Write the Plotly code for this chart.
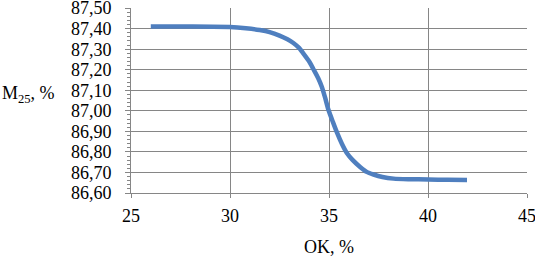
import plotly.graph_objects as go

ok = [26.0, 28.0, 30.0, 30.8, 31.5, 32.0, 32.5, 32.9, 33.2, 33.5, 33.7, 34.0, 34.2, 34.45, 34.64, 34.8, 34.97, 35.2, 35.4, 35.65, 35.9, 36.2, 36.57, 36.9, 37.25, 37.7, 38.26, 39.0, 40.03, 41.0, 41.97]
m25 = [87.41, 87.41, 87.408, 87.402, 87.393, 87.383, 87.366, 87.348, 87.330, 87.305, 87.280, 87.240, 87.205, 87.160, 87.116, 87.065, 87.005, 86.945, 86.895, 86.840, 86.795, 86.760, 86.727, 86.703, 86.690, 86.678, 86.670, 86.667, 86.666, 86.664, 86.663]

y_ticks = [86.6 + 0.1 * i for i in range(10)]
y_labels = [f"{v:.2f}".replace(".", ",") for v in y_ticks]
x_ticks = [25, 30, 35, 40, 45]
x_labels = [str(v) for v in x_ticks]

fig = go.Figure()
fig.add_trace(go.Scatter(x=ok, y=m25, mode="lines", line=dict(color="#4F7FBF", width=4.5, shape="spline", smoothing=0.6)))

fam = "Liberation Serif"
font = dict(family=fam, size=18, color="#000")
grid = "#868686"
fig.update_layout(
    width=535, height=257,
    margin=dict(l=131, r=8, t=8, b=64, autoexpand=False),
    plot_bgcolor="white", paper_bgcolor="white",
    showlegend=False,
    font=font,
    xaxis=dict(range=[25, 45], tickvals=x_ticks, ticktext=x_labels, showgrid=True, gridcolor=grid, gridwidth=1,
               showline=True, linecolor=grid, linewidth=1, ticks="outside", ticklen=4, tickcolor=grid,
               zeroline=False, tickfont=font, ticklabeloverflow="allow", ticklabelstandoff=2, automargin=False,
               title=dict(text="OK, %", font=font, standoff=17)),
    yaxis=dict(range=[86.6, 87.5005], tickvals=y_ticks, ticktext=y_labels, showgrid=True, gridcolor=grid, gridwidth=1,
               showline=True, linecolor=grid, linewidth=1, ticks="outside", ticklen=5, tickcolor=grid,
               zeroline=False, tickfont=font, ticklabeloverflow="allow", ticklabelstandoff=10, automargin=False,
               minor=dict(dtick=0.02, ticks="outside", ticklen=3, tickcolor=grid, showgrid=False)),
)
fig.add_annotation(text="M<sub>25</sub>, %", xref="paper", yref="paper", x=-0.331, y=0.53,
                   xanchor="left", yanchor="middle", showarrow=False, font=font)
fig.write_html("out.html", config={"displayModeBar": False},
               post_script="document.body.style.margin='0';document.body.style.padding='0';")
